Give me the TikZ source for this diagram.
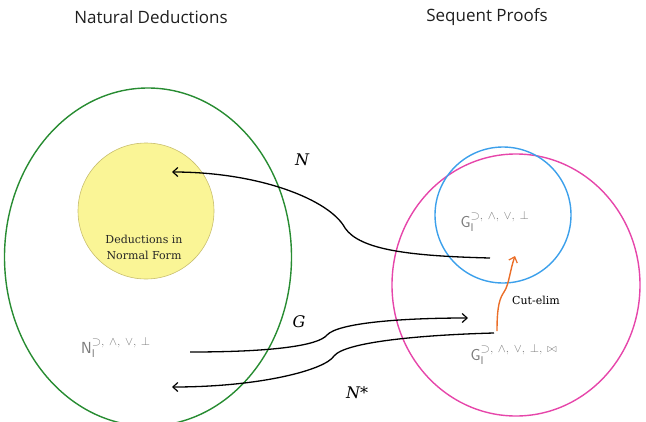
\documentclass[tikz,border=0pt]{standalone}
\usepackage{fontspec}
\newfontfamily\titlefont{Open Sans}
\newfontfamily\labelfont{DejaVu Serif}
\usetikzlibrary{arrows.meta,shapes.geometric}
\definecolor{ndgreen}{RGB}{40,140,50}
\definecolor{sqpink}{RGB}{230,70,170}
\definecolor{gblue}{RGB}{60,160,235}
\definecolor{nfyellow}{RGB}{250,245,150}
\definecolor{nfedge}{RGB}{200,190,110}
\definecolor{cutorange}{RGB}{235,110,40}
\newcommand\sysname[2]{$\mathsf{#1}_{\mathsf{I}}^{\mbox{\fontsize{12}{12}\selectfont$#2$}}$}
\newcommand\symgap{\mskip 4mu}
\begin{document}
\begin{tikzpicture}[x=1pt,y=-1pt,
  titlestyle/.style={font=\titlefont\fontsize{17}{19}\selectfont, text=black!88},
  sysstyle/.style={text=black!52, font=\fontsize{16}{18}\selectfont},
  lbl/.style={font=\labelfont\itshape\fontsize{16}{18}\selectfont},
  conn/.style={line width=1.3pt, black, -{Straight Barb[length=5pt,width=9pt,line width=1.2pt]}},
]
\useasboundingbox (0,0) rectangle (646,421);
\begin{scope}
\clip (0,0) rectangle (646,421);
\node[draw=ndgreen, line width=1.4pt, ellipse, minimum width=287pt, minimum height=338pt, inner sep=0pt] (nd) at (148,257) {};
\end{scope}
\node[draw=sqpink, line width=1.4pt, ellipse, minimum width=248pt, minimum height=262pt, inner sep=0pt] (sq) at (516,285) {};
\node[draw=gblue, line width=1.4pt, circle, minimum size=136pt, inner sep=0pt] (gi) at (503,215) {};
\node[draw=nfedge, fill=nfyellow, line width=0.6pt, circle, minimum size=136pt, inner sep=0pt] (nf) at (146,211) {};

\node[titlestyle] (t1) at (151,17) {Natural Deductions};
\node[titlestyle] (t2) at (487,17) {Sequent Proofs};

\node[align=center, font=\labelfont\fontsize{11}{16}\selectfont, text=black!85] (nft) at (144,247) {Deductions in\\Normal Form};

\node[sysstyle] (ni) at (116,347) {\sysname{N}{\supset,\symgap\wedge,\symgap\vee,\symgap\bot}};
\node[sysstyle] (g1) at (495,221) {\sysname{G}{\supset,\symgap\wedge,\symgap\vee,\symgap\bot}};
\node[sysstyle] (g2) at (514,354) {\sysname{G}{\supset,\symgap\wedge,\symgap\vee,\symgap\bot,\symgap\bowtie}};

\coordinate (nS) at (490,258);
\coordinate (nE) at (172,172);
\coordinate (gS) at (190,352);
\coordinate (gE) at (468,318);
\coordinate (sS) at (494,333);
\coordinate (sE) at (172,387);
\coordinate (cS) at (497,331);
\coordinate (cE) at (515,256);

\draw[conn] (nS) .. controls (410,256) and (360,250) .. (345,228) .. controls (330,200) and (260,172) .. (nE);
\draw[conn] (gS) .. controls (270,352) and (318,346) .. (327,335) .. controls (338,323) and (400,318) .. (gE);
\draw[conn] (sS) .. controls (420,335) and (345,342) .. (334,356) .. controls (325,370) and (260,387) .. (sE);
\draw[line width=1.4pt, cutorange, -{Straight Barb[length=5pt,width=9pt,line width=1.2pt]}] (cS) .. controls (497,305) and (500,298) .. (504,292) .. controls (509,285) and (510,270) .. (cE);

\node[lbl] (ln) at (302,160) {N};
\node[lbl] (lg) at (299,322) {G};
\node[lbl] (lns) at (357,393) {N*};
\node[font=\labelfont\fontsize{11}{13}\selectfont] (lc) at (536,300) {Cut-elim};
\end{tikzpicture}
\end{document}
